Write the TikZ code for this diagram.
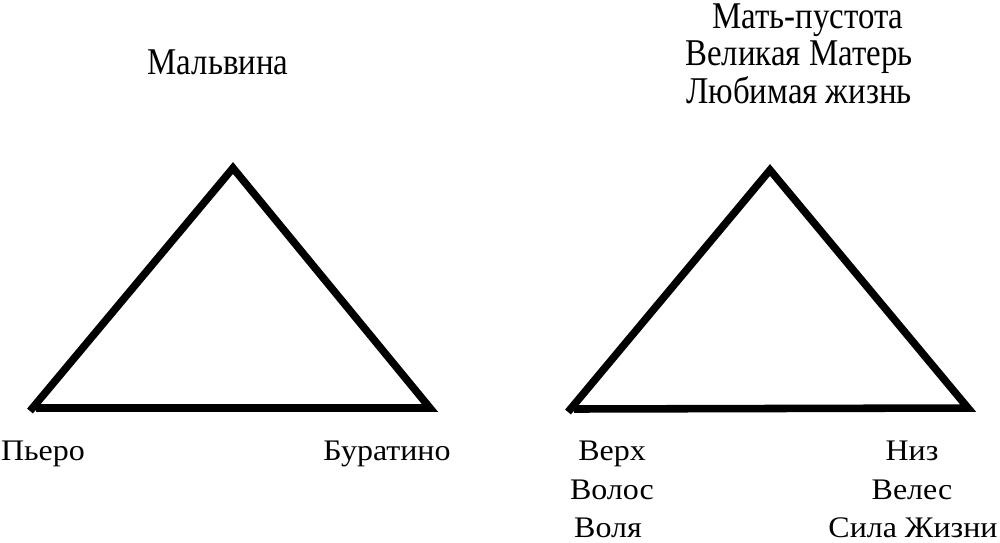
\documentclass[tikz,border=0pt]{standalone}
\usepackage{fontspec}
\setmainfont{Liberation Serif}
\newfontfamily\tallfont[FakeStretch=0.87]{Liberation Serif}
\newfontfamily\widefont[FakeStretch=1.07]{Liberation Serif}
\usepackage{tikz}
\usetikzlibrary{calc}

\tikzset{
	side/.style={line width=4.3pt,line join=miter},
	toptext/.style={font=\tallfont\fontsize{21.5}{26}\selectfont,anchor=base,inner sep=0pt},
	lowtext/.style={font=\widefont\fontsize{17}{20}\selectfont,anchor=base,inner sep=0pt}
}

\begin{document}
\begin{tikzpicture}[x=0.02cm,y=-0.02cm]
	\useasboundingbox (0,0) rectangle (1000,542);
	% left triangle
	\coordinate (lefttop) at (233,168);
	\coordinate (leftbl) at (30,411);
	\coordinate (leftbl2) at (36,408);
	\coordinate (leftbr) at (430,408);
	\draw[side] (leftbl) -- (lefttop) -- (leftbr) -- (leftbl2);
	% right triangle
	\coordinate (righttop) at (770,170);
	\coordinate (rightbl) at (568,412);
	\coordinate (rightbl2) at (574,409);
	\coordinate (rightbr) at (968,408);
	\draw[side] (rightbl) -- (righttop) -- (rightbr) -- (rightbl2);
	% labels
	\node[toptext] (malvina) at (218,74) {Мальвина};
	\node[toptext] (mat) at (808,28) {Мать-пустота};
	\node[toptext] (velikaya) at (799,65) {Великая Матерь};
	\node[toptext] (lyubimaya) at (799,103) {Любимая жизнь};
	\node[lowtext] (piero) at (43,460) {Пьеро};
	\node[lowtext] (buratino) at (387,460) {Буратино};
	\node[lowtext] (verh) at (612,460) {Верх};
	\node[lowtext] (volos) at (612,499) {Волос};
	\node[lowtext] (volya) at (608,537) {Воля};
	\node[lowtext] (niz) at (912,460) {Низ};
	\node[lowtext] (veles) at (912,499) {Велес};
	\node[lowtext] (sila) at (913,537) {Сила Жизни};
\end{tikzpicture}
\end{document}
